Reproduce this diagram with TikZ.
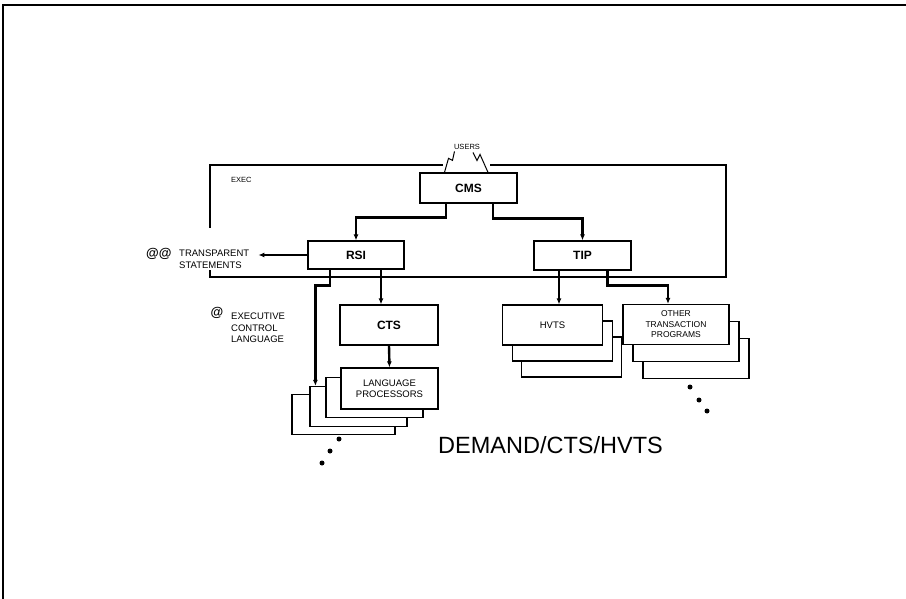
\documentclass[tikz,border=0pt]{standalone}
\usepackage{fontspec}
\setmainfont{Liberation Sans}
\usetikzlibrary{positioning,arrows.meta,calc}

\begin{document}
\begin{tikzpicture}[x=1pt, y=-1pt,
  box/.style={draw, line width=1.2pt, fill=white, align=center,
              font=\fontsize{9.5}{11}\selectfont, inner sep=0pt,
              minimum width=97pt, minimum height=40pt},
  hand/.style={font=\fontsize{12}{12}\selectfont\bfseries},
  note/.style={align=left, font=\fontsize{9.5}{11.5}\selectfont, inner sep=0pt},
  arr/.style={-{Latex[length=6pt,width=5pt]}, line width=2.4pt},
  frame/.style={line width=1.2pt},
  bolt/.style={line width=1pt},
  dot/.style={circle, fill, inner sep=0pt, minimum size=5pt}
]
\useasboundingbox (0,0) rectangle (906,599);
\draw[line width=2pt] (3,599) |- (906,5);

% exec frame
\draw[frame] (443,165) -| (210,228);
\draw[frame] (210,270) |- (726,277) |- (490,165);
\node[note, anchor=west, font=\fontsize{7.5}{8}\selectfont] (execlbl) at (231,180) {EXEC};

\node[box, hand, minimum height=30pt] (cms) at (468.5,188) {CMS};
\node[note, font=\fontsize{7.5}{8}\selectfont] (users) at (467,147) {USERS};
\draw[bolt] ([xshift=-24pt]cms.north) -- ++(4,-14) -- ++(4,2) -- ++(2,-9);
\draw[bolt] ([xshift=19.5pt]cms.north) -- ++(-8,-18) -- ++(-3,6) -- ++(-4,-8);

\node[box, hand, minimum width=96pt, minimum height=28pt] (rsi) at (356,255) {RSI};
\node[box, hand, minimum height=29pt] (tip) at (582.5,255.5) {TIP};
\node[box, hand, minimum width=98pt] (cts) at (389,325) {CTS};

% language processors stack
\coordinate (lpc) at (389.5,388.5);
\node[box, minimum width=103pt] (lp4) at ($(lpc)+(-46,26)$) {};
\node[box] (lp3) at ($(lpc)+(-31,18)$) {};
\node[box] (lp2) at ($(lpc)+(-15,9)$) {};
\node[box, minimum height=41pt] (lp) at (lpc) {LANGUAGE\\PROCESSORS};

% hvts stack
\coordinate (hvc) at (552.5,325);
\node[box, minimum width=100pt] (hvts3) at ($(hvc)+(19,32)$) {};
\node[box, minimum width=100pt] (hvts2) at ($(hvc)+(10,16)$) {};
\node[box, minimum width=100pt] (hvts) at (hvc) {HVTS};

% other transaction programs stack
\coordinate (otc) at (676,324.5);
\node[box, minimum width=106pt] (other3) at ($(otc)+(20,34)$) {};
\node[box, minimum width=106pt] (other2) at ($(otc)+(10,17)$) {};
\node[box, minimum width=106pt, font=\fontsize{8.5}{10.5}\selectfont] (other) at (otc)
  {OTHER\\TRANSACTION\\PROGRAMS};

% side notes
\node[note, anchor=west] (trans) at (179,259) {TRANSPARENT\\STATEMENTS};
\node[hand, anchor=east, font=\fontsize{13}{13}\selectfont\bfseries] (gomark) at (175,254) {@@};
\node[hand, font=\fontsize{13}{13}\selectfont\bfseries] (eclmark) at (217,313) {@};
\node[note, anchor=west] (ecl) at (231,328) {EXECUTIVE\\CONTROL\\LANGUAGE};

\node[font=\fontsize{23.5}{24}\selectfont] (title) at (550.5,445) {DEMAND/CTS/HVTS};

% connectors
\draw[arr] ([xshift=-22.5pt]cms.south) -- ++(0,14) -| (rsi.north);
\draw[arr] ([xshift=24.5pt]cms.south) -- ++(0,15) -| (tip.north);
\draw[arr] (rsi.west) -- ([xshift=9pt]trans.east |- rsi.west);
\draw[arr] ([xshift=-26pt]rsi.south) -- ++(0,16) -| ([xshift=6pt]lp3.north west);
\draw[arr] ([xshift=25pt]rsi.south) -- ([xshift=25pt]rsi.south |- cts.north);
\draw[arr] (cts.south) -- (lp.north);
\draw[arr] ([xshift=-23.5pt]tip.south) -- ([xshift=-23.5pt]tip.south |- hvts.north);
\draw[arr] ([xshift=25pt]tip.south) -- ++(0,15) -| ([xshift=-8pt]other.north);

% continuation dots
\foreach \px/\py [count=\i] in {339/439, 330/451, 322/463}
  \node[dot] (ldot\i) at (\px,\py) {};
\foreach \px/\py [count=\i] in {690/387, 699/400, 707/411}
  \node[dot] (odot\i) at (\px,\py) {};
\end{tikzpicture}
\end{document}
